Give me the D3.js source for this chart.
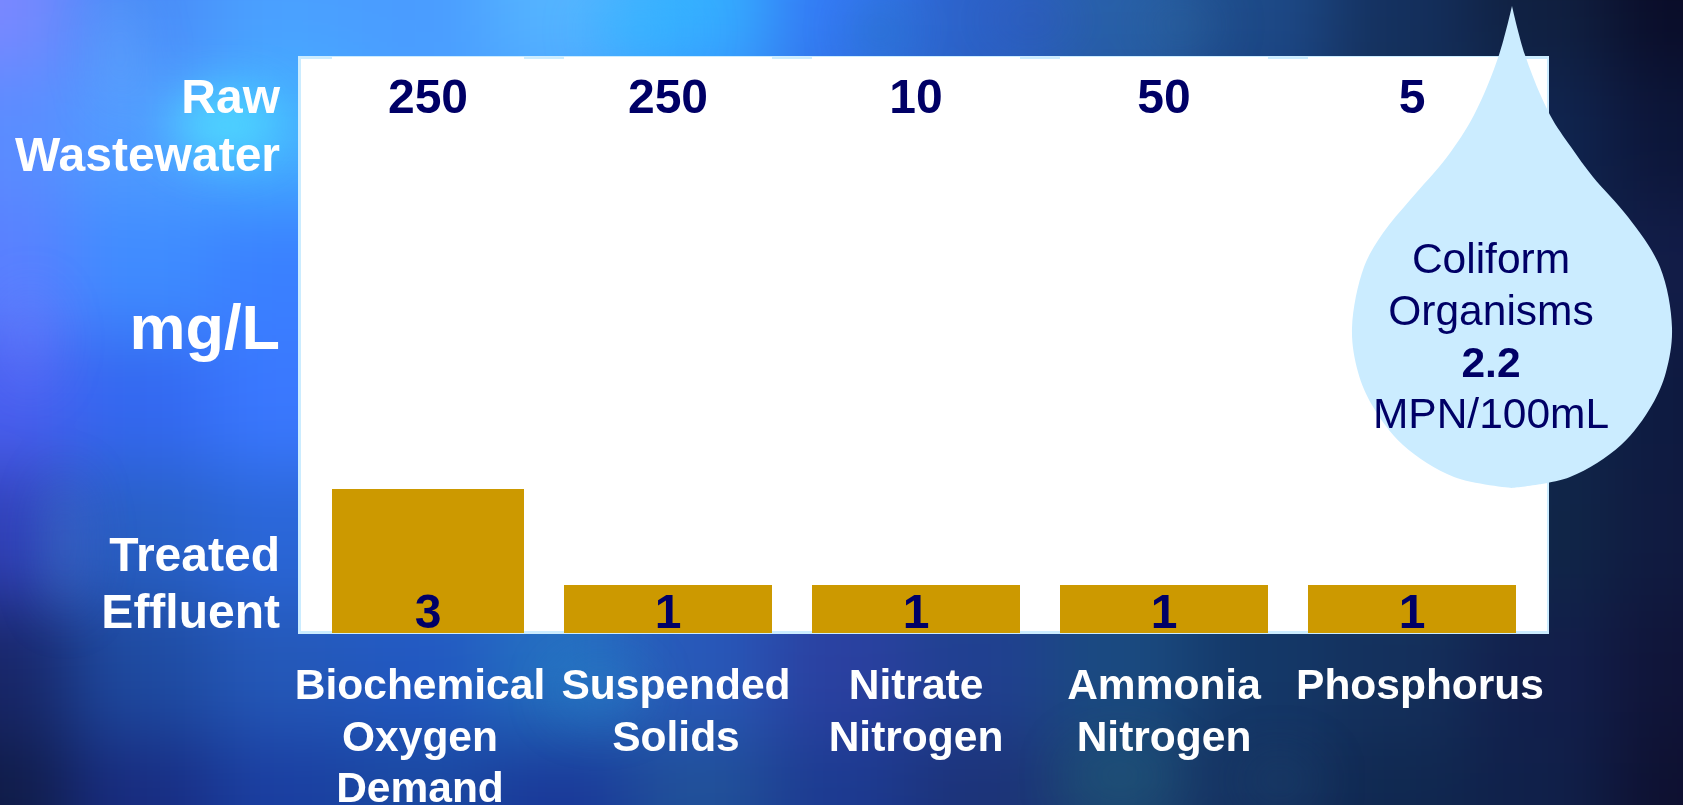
<!DOCTYPE html>
<html><head><meta charset="utf-8">
<script src="https://cdn.jsdelivr.net/npm/d3@7"></script>
<style>html,body{margin:0;padding:0;background:#102040;overflow:hidden}svg{display:block}text{font-family:"Liberation Sans",Arial,sans-serif}</style>
</head><body><svg id="c" width="1683" height="805"></svg>
<script>
const categories=["Biochemical Oxygen Demand","Suspended Solids","Nitrate Nitrogen","Ammonia Nitrogen","Phosphorus"];
const categoryLines=[["Biochemical","Oxygen","Demand"],["Suspended","Solids"],["Nitrate","Nitrogen"],["Ammonia","Nitrogen"],["Phosphorus"]];
const rawValues=[250,250,10,50,5];
const treatedValues=[3,1,1,1,1];
const bgX=[0,140,280,420,560,700,840,980,1120,1260,1400,1540,1683];
const bgY=[0,134,268,402,536,670,805];
const bgColors=[
["#7a88ff","#4a8cf8","#4aa0ff","#4a9cff","#55b5ff","#35b0ff","#3478f5","#2c62c8","#2860a8","#1d4a88","#14305e","#102040","#0a0c28"],
["#5a8cff","#509cff","#45b0ff","#4aa0ff","#4aa0ff","#3a90ff","#3070e0","#2860c0","#2458a0","#1a4080","#143058","#102550","#0c1538"],
["#5a80ff","#3f8cff","#3a80ff","#3a80ff","#3a80f0","#3070e0","#2860c0","#2458a8","#1e4a90","#1a4078","#143060","#10254c","#121c48"],
["#4a60f0","#3368f0","#3a78ff","#3a78f0","#3070e0","#2c60d0","#2850b0","#244a98","#1e4888","#183a70","#143058","#10264c","#0e1a40"],
["#3040b8","#2860c4","#2a66d8","#2a66d0","#2a68c8","#2a58c0","#2848a8","#204490","#1c4880","#163868","#143460","#102648","#101a40"],
["#182668","#1e4aa0","#2458b8","#2258c0","#2470c0","#2858b8","#2a40a0","#204090","#1a4a80","#143868","#14305c","#121f4c","#101438"],
["#101c48","#182c80","#1a3ea0","#1a48a0","#1a3898","#205098","#1c3a90","#1c3278","#1c4470","#143060","#102850","#10204a","#0e1030"]];

const svg=d3.select("#c");
const defs=svg.append("defs");
defs.append("filter").attr("id","blur").attr("x","-20%").attr("y","-20%").attr("width","140%").attr("height","140%")
  .attr("color-interpolation-filters","sRGB")
  .append("feGaussianBlur").attr("stdDeviation",38);
defs.append("filter").attr("id","glow").attr("x","-100%").attr("y","-100%").attr("width","300%").attr("height","300%")
  .attr("color-interpolation-filters","sRGB")
  .append("feGaussianBlur").attr("stdDeviation",24);

// background mesh
const bg=svg.append("g").attr("filter","url(#blur)");
const edge=(a,i)=>i===0?-250:(a[i-1]+a[i])/2;
const edge2=(a,i)=>i===a.length-1?a[i]+250:(a[i]+a[i+1])/2;
bgColors.forEach((row,j)=>row.forEach((col,i)=>{
  bg.append("rect").attr("x",edge(bgX,i)).attr("y",edge(bgY,j))
    .attr("width",edge2(bgX,i)-edge(bgX,i)+1).attr("height",edge2(bgY,j)-edge(bgY,j)+1).attr("fill",col);
}));
// soft highlights
const glows=svg.append("g").attr("filter","url(#glow)");
[[225,125,55,32,"#50e8ff",.75],[640,30,50,20,"#30b8ff",.6],[120,55,22,60,"#70b8ff",.3],[30,340,25,50,"#7a80ff",.25],[65,545,20,70,"#4a88c8",.35],
 [600,690,45,30,"#2a80c8",.4],[1120,775,55,35,"#206880",.3],[1280,780,40,26,"#205070",.3],[880,30,28,30,"#2070b0",.45],[1030,20,45,22,"#3050b8",.35],[1180,25,38,20,"#306898",.4]]
 .forEach(g=>glows.append("ellipse").attr("cx",g[0]).attr("cy",g[1]).attr("rx",g[2]).attr("ry",g[3]).attr("fill",g[4]).attr("opacity",g[5]));

// scales
const plot={left:298,right:1549,top:56,bottom:634};
const x=d3.scaleBand().domain(categories).range([316,1516]).paddingInner(40/248).paddingOuter(0);
const y=d3.scaleLinear().domain([0,1]).range([633,585]);
const firstInset=16;
const barX=(c,i)=>x(c)+(i===0?firstInset:0);
const barW=(c,i)=>x.bandwidth()-(i===0?firstInset:0);
const barC=(c,i)=>barX(c,i)+barW(c,i)/2;

// panel: pale frame, white inside, white columns cut into the frame over each bar
const pale="#cbecff";
svg.append("rect").attr("x",plot.left).attr("y",plot.top).attr("width",plot.right-plot.left).attr("height",plot.bottom-plot.top).attr("fill",pale);
svg.append("rect").attr("x",plot.left+3).attr("y",plot.top+3).attr("width",plot.right-plot.left-5).attr("height",plot.bottom-plot.top-6).attr("fill","#fff");
svg.append("g").selectAll("rect").data(categories).join("rect")
  .attr("x",barX).attr("width",barW).attr("y",plot.top+1).attr("height",plot.bottom-plot.top-2).attr("fill","#fff");

// bars
svg.append("g").selectAll("rect").data(categories).join("rect")
  .attr("x",barX).attr("width",barW)
  .attr("y",(c,i)=>y(treatedValues[i]))
  .attr("height",(c,i)=>y(0)-y(treatedValues[i]))
  .attr("fill","#cc9900");

// value labels
const navy="#000066";
svg.append("g").selectAll("text").data(categories).join("text")
  .attr("x",barC).attr("y",113).attr("text-anchor","middle")
  .attr("font-size",48).attr("font-weight",700).attr("fill",navy).text((c,i)=>rawValues[i]);
svg.append("g").selectAll("text").data(categories).join("text")
  .attr("x",barC).attr("y",628).attr("text-anchor","middle")
  .attr("font-size",48).attr("font-weight",700).attr("fill",navy).text((c,i)=>treatedValues[i]);

// row labels
[["Raw",113,48],["Wastewater",171,48],["mg/L",349,63],["Treated",571,48],["Effluent",628,48]].forEach(d=>{
  svg.append("text").attr("x",280).attr("y",d[1]).attr("text-anchor","end")
    .attr("font-size",d[2]).attr("font-weight",700).attr("fill","#fff").text(d[0]);
});

// category labels
const labelShift=[0,8,0,0,8];
categories.forEach((c,i)=>{
  categoryLines[i].forEach((t,k)=>{
    svg.append("text").attr("x",x(c)+x.bandwidth()/2+labelShift[i]).attr("y",699+k*51.5).attr("text-anchor","middle")
      .attr("font-size",42.5).attr("font-weight",700).attr("fill","#fff").text(t);
  });
});

// drop
const dropRight=[[1512,6],[1525,55],[1550,115],[1571,147],[1593,177],[1628,217],[1660,267],[1672,328],[1666,372],[1652,405],[1621,445],[1570,477],[1512,488]];
const dropLeft=[[1512,488],[1454,477],[1403,445],[1372,405],[1358,372],[1352,328],[1364,267],[1383,233],[1410,200],[1447,157],[1474,115],[1499,55],[1512,6]];
const dl=d3.line().curve(d3.curveCatmullRom.alpha(0.5));
svg.append("path").attr("d",dl(dropRight)+"L"+dl(dropLeft).slice(1)+"Z").attr("fill",pale);
[["Coliform",273,400],["Organisms",325,400],["2.2",377,700],["MPN/100mL",428,400]].forEach(d=>{
  svg.append("text").attr("x",1491).attr("y",d[1]).attr("text-anchor","middle")
    .attr("font-size",42.5).attr("font-weight",d[2]).attr("fill",navy).text(d[0]);
});
</script></body></html>
